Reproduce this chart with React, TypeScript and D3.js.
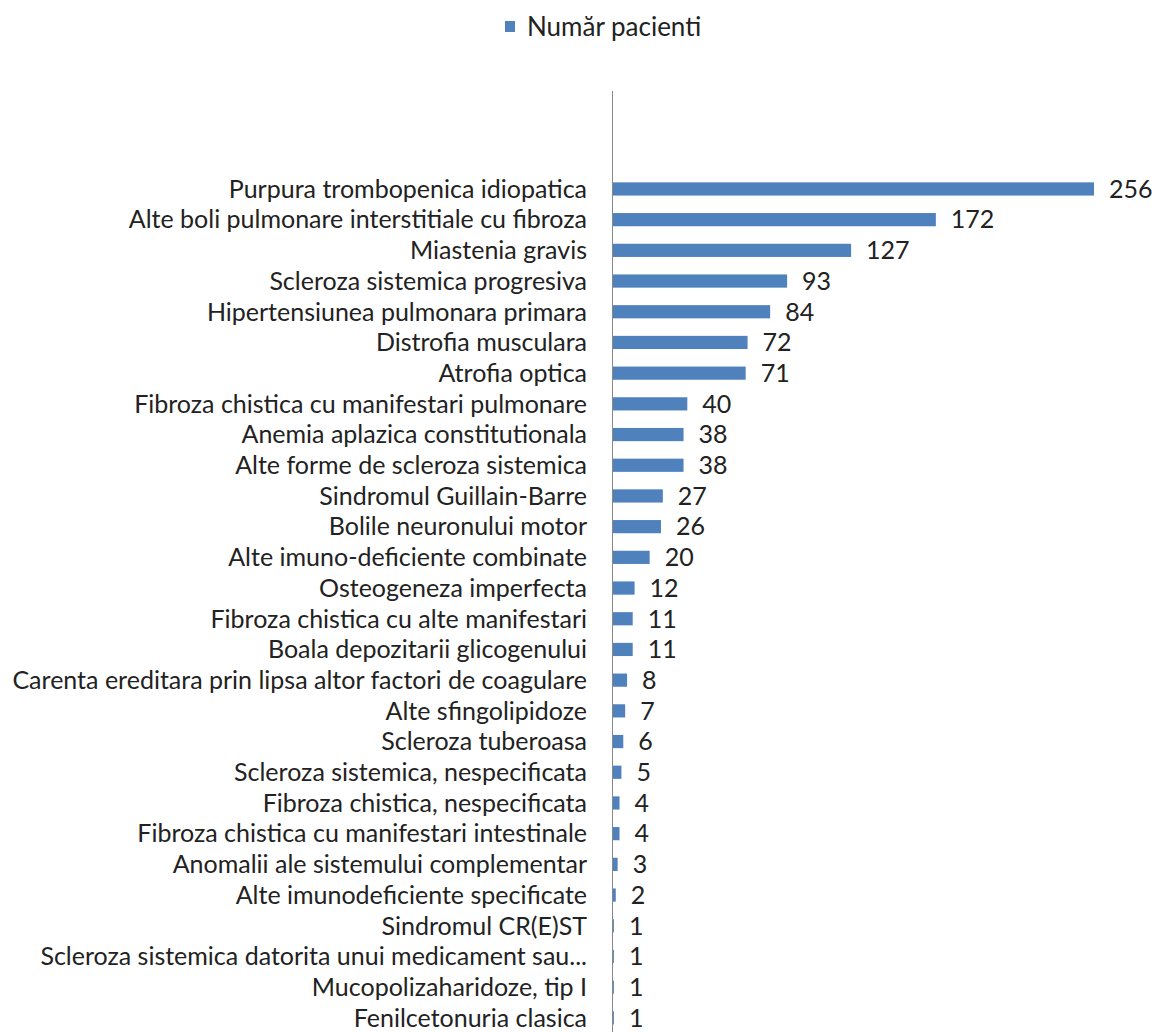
import React from "react";
import * as d3 from "d3";

const categories = [
  "Purpura trombopenica idiopatica",
  "Alte boli pulmonare interstitiale cu fibroza",
  "Miastenia gravis",
  "Scleroza sistemica progresiva",
  "Hipertensiunea pulmonara primara",
  "Distrofia musculara",
  "Atrofia optica",
  "Fibroza chistica cu manifestari pulmonare",
  "Anemia aplazica constitutionala",
  "Alte forme de scleroza sistemica",
  "Sindromul Guillain-Barre",
  "Bolile neuronului motor",
  "Alte imuno-deficiente combinate",
  "Osteogeneza imperfecta",
  "Fibroza chistica cu alte manifestari",
  "Boala depozitarii glicogenului",
  "Carenta ereditara prin lipsa altor factori de coagulare",
  "Alte sfingolipidoze",
  "Scleroza tuberoasa",
  "Scleroza sistemica, nespecificata",
  "Fibroza chistica, nespecificata",
  "Fibroza chistica cu manifestari intestinale",
  "Anomalii ale sistemului complementar",
  "Alte imunodeficiente specificate",
  "Sindromul CR(E)ST",
  "Scleroza sistemica datorita unui medicament sau...",
  "Mucopolizaharidoze, tip I",
  "Fenilcetonuria clasica",
];

const values = [256, 172, 127, 93, 84, 72, 71, 40, 38, 38, 27, 26, 20, 12, 11, 11, 8, 7, 6, 5, 4, 4, 3, 2, 1, 1, 1, 1];

const seriesName = "Număr pacienti";

export default function App() {
  const W = 1154;
  const H = 1032;
  const x = d3.scaleLinear().domain([0, 256]).range([612, 1094]);
  const y = d3
    .scaleBand<string>()
    .domain(categories)
    .range([173.6, 1033.2])
    .paddingInner(0.57)
    .paddingOuter(0.285);
  const font = "Lato, 'Liberation Sans', sans-serif";
  const barColor = "#4F81BD";
  const fs = 25;
  return (
    <svg
      width={W}
      height={H}
      style={{ position: "absolute", left: 0, top: 0, background: "#fff" }}
      fontFamily={font}
    >
      <rect x={0} y={0} width={W} height={H} fill="#fff" />
      {/* legend */}
      <rect x={505} y={21} width={10} height={11} fill={barColor} />
      <text x={527} y={27} dy="0.35em" fontSize={26} fill="#222">
        {seriesName}
      </text>
      {/* bars */}
      {categories.map((c, i) => (
        <g key={c}>
          <rect
            x={x(0)}
            y={y(c)!}
            width={Math.max(1, x(values[i]) - x(0))}
            height={y.bandwidth()}
            fill={barColor}
          />
          <text
            x={587}
            y={y(c)! + y.bandwidth() / 2}
            dy="0.35em"
            textAnchor="end"
            fontSize={fs}
            fill="#222"
          >
            {c}
          </text>
          <text
            x={x(values[i]) + 15}
            y={y(c)! + y.bandwidth() / 2}
            dy="0.35em"
            fontSize={fs}
            fill="#222"
          >
            {values[i]}
          </text>
        </g>
      ))}
      {/* axis */}
      <line x1={612.5} x2={612.5} y1={91} y2={H} stroke="#888" strokeWidth={1} />
    </svg>
  );
}
